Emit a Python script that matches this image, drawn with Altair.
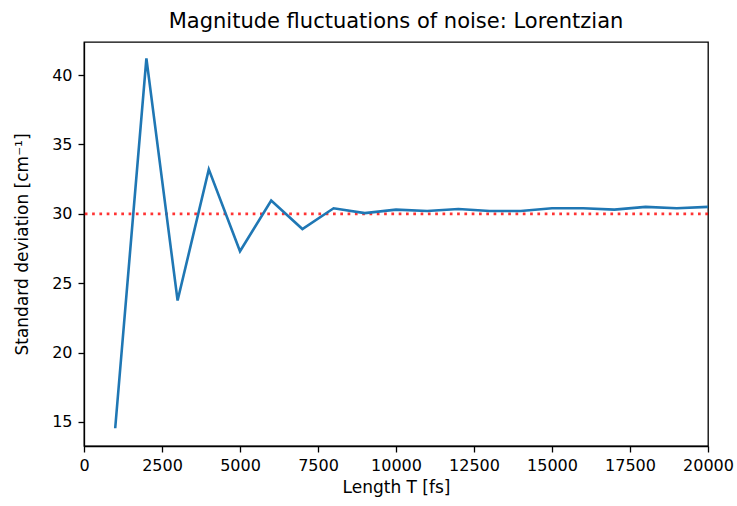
import altair as alt
import pandas as pd

T = [1000, 2000, 3000, 4000, 5000, 6000, 7000, 8000, 9000, 10000,
     11000, 12000, 13000, 14000, 15000, 16000, 17000, 18000, 19000, 20000]
sigma = [14.55, 41.2, 23.75, 33.2, 27.3, 30.95, 28.9, 30.4, 30.05, 30.3,
         30.2, 30.35, 30.2, 30.2, 30.4, 30.4, 30.3, 30.5, 30.4, 30.5]
ref_level = [30]
x_ticks = [0, 2500, 5000, 7500, 10000, 12500, 15000, 17500, 20000]
y_ticks = [15, 20, 25, 30, 35, 40]

df = pd.DataFrame({"T": T, "sigma": sigma})
ref = pd.DataFrame({"y": ref_level})

FONT = "DejaVu Sans"

x_scale = alt.Scale(domain=[0, 20000], nice=False, zero=False)
y_scale = alt.Scale(domain=[13.27, 42.38], nice=False, zero=False)

x_axis = alt.Axis(values=x_ticks, title="Length T [fs]", grid=False,
                  labelFont=FONT, titleFont=FONT, labelFontSize=16, titleFontSize=17,
                  labelColor="black", titleColor="black", titleFontWeight="normal",
                  tickColor="black", domainColor="black", tickSize=6, tickWidth=1.3,
                  domainWidth=1.3, labelPadding=5, titlePadding=6, labelFlush=False,
                  labelOverlap=False, format="d")
y_axis = alt.Axis(values=y_ticks, title="Standard deviation [cm⁻¹]", grid=False,
                  labelFont=FONT, titleFont=FONT, labelFontSize=16, titleFontSize=17,
                  labelColor="black", titleColor="black", titleFontWeight="normal",
                  tickColor="black", domainColor="black", tickSize=6, tickWidth=1.3,
                  domainWidth=1.3, labelPadding=6, titlePadding=20, format="d")

line = alt.Chart(df).mark_line(color="#1f77b4", strokeWidth=2.6).encode(
    x=alt.X("T:Q", scale=x_scale, axis=x_axis),
    y=alt.Y("sigma:Q", scale=y_scale, axis=y_axis),
)

rule = alt.Chart(ref).mark_rule(color="red", opacity=0.8, strokeWidth=2.7,
                                strokeDash=[2.7, 4.6]).encode(
    y=alt.Y("y:Q", scale=y_scale),
)

chart = alt.layer(rule, line).properties(
    width=624, height=404,
    background="white",
    title=alt.TitleParams("Magnitude fluctuations of noise: Lorentzian",
                          font=FONT, fontSize=21, fontWeight="normal",
                          color="black", offset=10, anchor="middle"),
    autosize=alt.AutoSizeParams(type="none"),
    padding={"left": 84, "top": 42, "right": 29, "bottom": 60},
).configure_view(stroke="black", strokeWidth=1.3)

chart.save("out.html", embed_options={"renderer": "svg", "actions": False})
